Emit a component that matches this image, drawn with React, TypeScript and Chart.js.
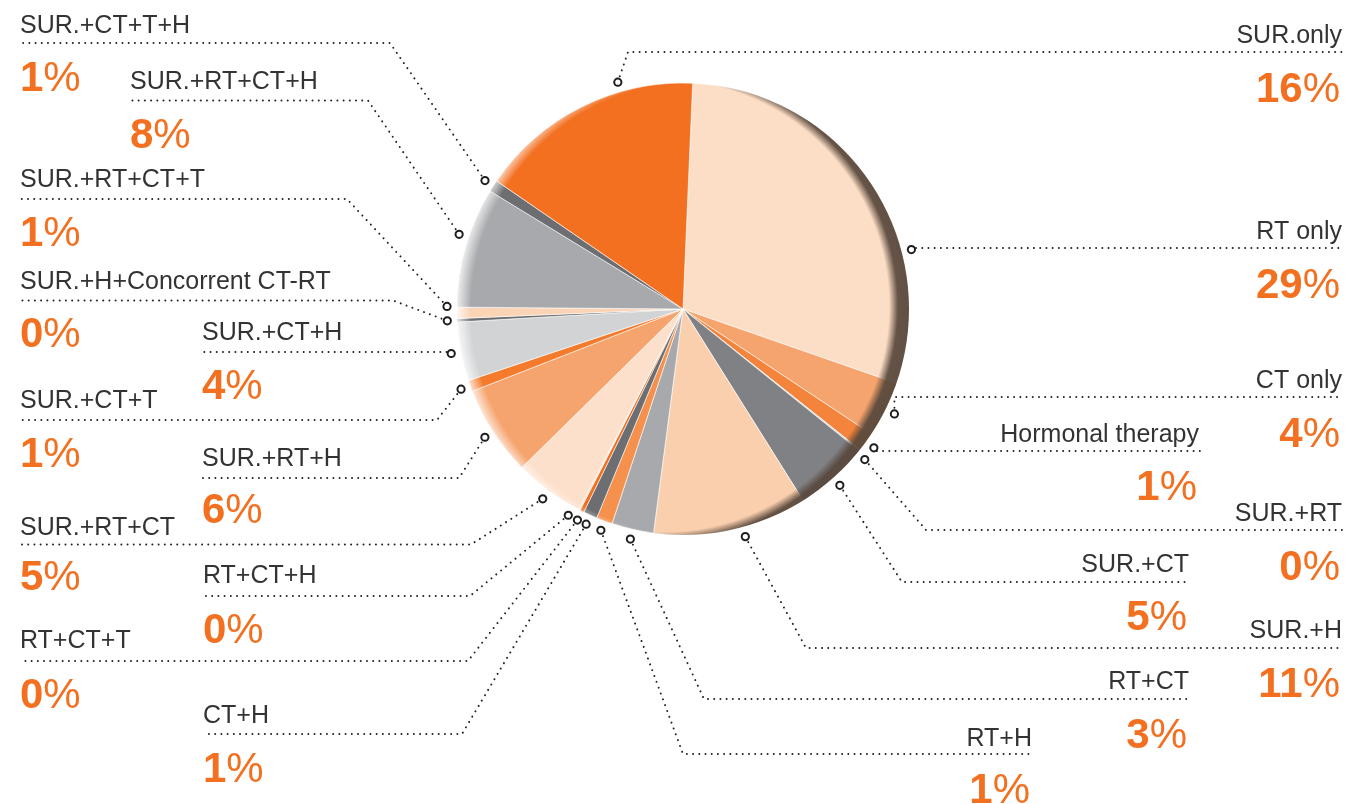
import React, { useEffect, useRef } from 'react';
import { Chart, registerables } from 'chart.js';

Chart.register(...registerables);

// ---- data ----
const categories = [
  'RT only', 'CT only', 'Hormonal therapy', 'SUR.+RT', 'SUR.+CT', 'SUR.+H', 'RT+CT', 'RT+H', 'CT+H',
  'RT+CT+T', 'RT+CT+H', 'SUR.+RT+CT', 'SUR.+RT+H', 'SUR.+CT+T', 'SUR.+CT+H', 'SUR.+H+Concorrent CT-RT',
  'SUR.+RT+CT+T', 'SUR.+RT+CT+H', 'SUR.+CT+T+H', 'SUR.only',
];
const shares = [
  29.65, 4.0, 1.35, 0.1, 5.3, 11.0, 3.0, 1.15, 1.0,
  0.3, 0.1, 5.0, 6.45, 0.8, 4.2, 0.25,
  0.8, 8.6, 0.85, 16.1,
];
const percentLabels = [
  '29%', '4%', '1%', '0%', '5%', '11%', '3%', '1%', '1%',
  '0%', '0%', '5%', '6%', '1%', '4%', '0%',
  '1%', '8%', '1%', '16%',
];
const sliceColors = [
  '#FCDEC6', '#F6A46E', '#F4843B', '#C9CACC', '#808184', '#FACFAE', '#A7A9AC', '#F6914D', '#6D6E71',
  '#F37021', '#FBD9C0', '#FDE0CB', '#F6A46E', '#F47A2C', '#D1D3D4', '#6D6E71',
  '#FBD3B5', '#A7A9AC', '#6D6E71', '#F37021',
];

// ---- layout of the callouts (positions only) ----
type L = { side: 'left' | 'right'; x: number; ty: number; ly: number; ex: number | null; py: number; off: number };
const layout: L[] = [
  { side: 'right', x: 1342, ty: 239, ly: 248, ex: null, py: 298, off: 19.6 },
  { side: 'right', x: 1342, ty: 388, ly: 397, ex: null, py: 447, off: 0 },
  { side: 'right', x: 1199, ty: 442, ly: 451, ex: null, py: 500, off: 0 },
  { side: 'right', x: 1342, ty: 521, ly: 530, ex: 926, py: 580, off: 1 },
  { side: 'right', x: 1189, ty: 572, ly: 582, ex: 902, py: 630, off: 0 },
  { side: 'right', x: 1342, ty: 638, ly: 648, ex: 806, py: 697, off: -3 },
  { side: 'right', x: 1189, ty: 689, ly: 699, ex: 704, py: 748, off: 0 },
  { side: 'right', x: 1032, ty: 746, ly: 754, ex: 683, py: 803, off: 0 },
  { side: 'left', x: 203, ty: 723, ly: 734, ex: 462, py: 782, off: 0 },
  { side: 'left', x: 20, ty: 648, ly: 661, ex: 468, py: 708, off: 0 },
  { side: 'left', x: 203, ty: 583, ly: 596, ex: 470, py: 643, off: 1.8 },
  { side: 'left', x: 20, ty: 535, ly: 544.5, ex: 471, py: 590, off: 0 },
  { side: 'left', x: 202, ty: 466, ly: 478, ex: 459, py: 523, off: 0 },
  { side: 'left', x: 20, ty: 408, ly: 420, ex: 437, py: 467, off: 0 },
  { side: 'left', x: 202, ty: 340, ly: 352, ex: null, py: 399, off: 0 },
  { side: 'left', x: 20, ty: 289, ly: 300.5, ex: 393, py: 347, off: 0 },
  { side: 'left', x: 20, ty: 187, ly: 199, ex: 347, py: 246, off: 1.6 },
  { side: 'left', x: 130, ty: 89, ly: 100.5, ex: 368, py: 148, off: 2.5 },
  { side: 'left', x: 20, ty: 33, ly: 43, ex: 390, py: 91, off: 0 },
  { side: 'right', x: 1342, ty: 43, ly: 52, ex: 628, py: 102, off: 10.5 },
];

const FAM = "'Liberation Sans', Arial, Helvetica, sans-serif";
const ORANGE = '#F37021';
const TEXT = '#333333';

const shadingPlugin = {
  id: 'shading',
  afterDatasetsDraw(chart: any) {
    const meta = chart.getDatasetMeta(0);
    const a0 = meta.data[0];
    if (!a0) return;
    const cx = a0.x, cy = a0.y, R = a0.outerRadius;
    const ctx = chart.ctx as CanvasRenderingContext2D;
    ctx.save();
    ctx.beginPath();
    ctx.arc(cx, cy, R, 0, Math.PI * 2);
    ctx.clip();
    // dark rim on the right
    {
      const d = 20;
      const gx = cx - d, gy = cy - 3;
      const outer = R + d + 4;
      const f = (r: number) => Math.max(0, Math.min(1, r / outer));
      const g = ctx.createRadialGradient(gx, gy, 0, gx, gy, outer);
      g.addColorStop(0, 'rgba(84,66,54,0)');
      g.addColorStop(f(R), 'rgba(84,66,54,0)');
      g.addColorStop(f(R + 9), 'rgba(88,72,60,0.93)');
      g.addColorStop(1, 'rgba(88,72,60,0.95)');
      ctx.fillStyle = g;
      ctx.fillRect(cx - R - 2, cy - R - 2, 2 * R + 4, 2 * R + 4);
    }
    // light highlight on the left
    {
      const d = 16;
      const gx = cx + d, gy = cy;
      const outer = R + d + 2;
      const f = (r: number) => Math.max(0, Math.min(1, r / outer));
      const g = ctx.createRadialGradient(gx, gy, 0, gx, gy, outer);
      g.addColorStop(0, 'rgba(255,255,255,0)');
      g.addColorStop(f(R + 2), 'rgba(255,255,255,0)');
      g.addColorStop(f(R + 16), 'rgba(255,255,255,0.8)');
      g.addColorStop(1, 'rgba(255,255,255,0.8)');
      ctx.fillStyle = g;
      ctx.fillRect(cx - R - 2, cy - R - 2, 2 * R + 4, 2 * R + 4);
    }
    ctx.restore();
  },
};

function drawPct(ctx: CanvasRenderingContext2D, str: string, x: number, y: number, side: string) {
  const num = str.replace('%', '');
  ctx.font = `bold 42px ${FAM}`;
  const w1 = ctx.measureText(num).width;
  ctx.font = `42px ${FAM}`;
  const w2 = ctx.measureText('%').width;
  const sx = side === 'left' ? x : x - w1 - w2;
  ctx.textAlign = 'left';
  ctx.textBaseline = 'alphabetic';
  ctx.fillStyle = ORANGE;
  ctx.font = `bold 42px ${FAM}`;
  ctx.fillText(num, sx, y);
  ctx.font = `42px ${FAM}`;
  ctx.fillText('%', sx + w1, y);
}

const calloutPlugin = {
  id: 'callouts',
  afterDraw(chart: any) {
    const meta = chart.getDatasetMeta(0);
    const ctx = chart.ctx as CanvasRenderingContext2D;
    const labels = chart.data.labels as string[];
    const markers: { x: number; y: number }[] = [];
    ctx.save();
    meta.data.forEach((arc: any, i: number) => {
      const lay = layout[i];
      if (!lay) return;
      const mid = (arc.startAngle + arc.endAngle) / 2 + (lay.off * Math.PI) / 180;
      const rr = arc.outerRadius + 10;
      const mx = arc.x + Math.cos(mid) * rr;
      const my = arc.y + Math.sin(mid) * rr;
      markers.push({ x: mx, y: my });
      const ex = lay.ex === null ? mx : lay.ex;
      // dotted leader
      ctx.strokeStyle = '#222222';
      ctx.lineWidth = 2;
      ctx.lineCap = 'round';
      ctx.setLineDash([0.01, 6.2]);
      ctx.beginPath();
      ctx.moveTo(mx, my);
      ctx.lineTo(ex, lay.ly);
      if (lay.side === 'left') ctx.lineTo(lay.x, lay.ly);
      else ctx.lineTo(lay.x + 1, lay.ly);
      ctx.stroke();
      ctx.setLineDash([]);
      // label text
      ctx.fillStyle = TEXT;
      ctx.font = `25px ${FAM}`;
      ctx.textBaseline = 'alphabetic';
      ctx.textAlign = lay.side === 'left' ? 'left' : 'right';
      ctx.fillText(labels[i], lay.x, lay.ty);
      drawPct(ctx, percentLabels[i], lay.side === 'left' ? lay.x : lay.x - 2, lay.py, lay.side);
    });
    // markers
    markers.forEach((m) => {
      ctx.beginPath();
      ctx.arc(m.x, m.y, 3.6, 0, Math.PI * 2);
      ctx.fillStyle = '#ffffff';
      ctx.fill();
      ctx.lineWidth = 2;
      ctx.strokeStyle = '#1e1e1e';
      ctx.stroke();
    });
    ctx.restore();
  },
};

export default function App() {
  const ref = useRef<HTMLCanvasElement | null>(null);
  useEffect(() => {
    if (!ref.current) return;
    const chart = new Chart(ref.current, {
      type: 'pie',
      data: {
        labels: categories,
        datasets: [
          {
            data: shares,
            backgroundColor: sliceColors,
            borderColor: 'rgba(255,255,255,0.75)',
            borderWidth: 0.8,
          },
        ],
      },
      options: {
        responsive: false,
        animation: false,
        events: [],
        rotation: 2.45,
        radius: 226,
        layout: { padding: { left: 457, right: 443, top: 83, bottom: 269 } },
        plugins: { legend: { display: false }, tooltip: { enabled: false }, title: { display: false } },
      },
      plugins: [shadingPlugin, calloutPlugin],
    } as any);
    return () => chart.destroy();
  }, []);
  return (
    <div style={{ position: 'fixed', left: 0, top: 0, width: 1352, height: 804, background: '#fff' }}>
      <canvas ref={ref} width={1352} height={804} style={{ display: 'block' }} />
    </div>
  );
}
